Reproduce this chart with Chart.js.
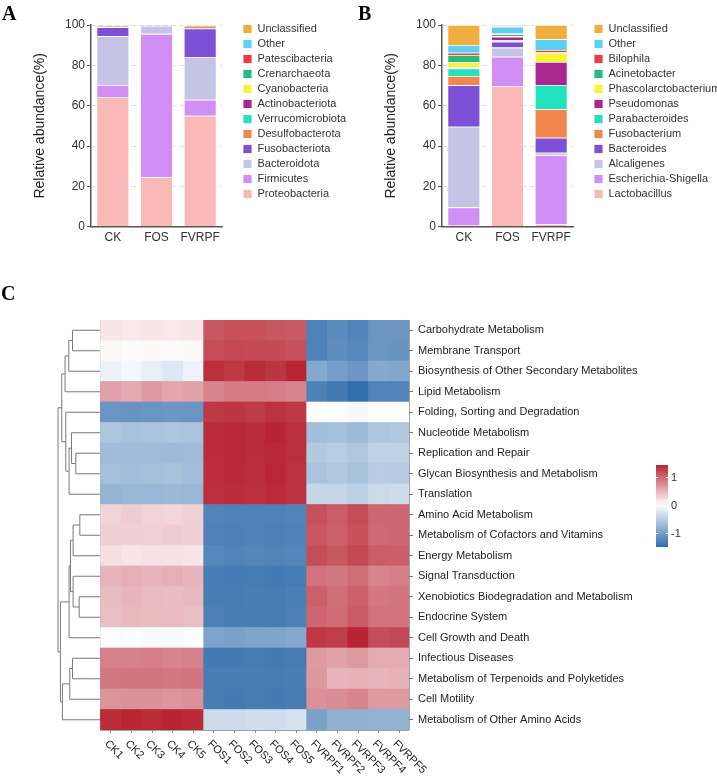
<!DOCTYPE html>
<html>
<head>
<meta charset="utf-8">
<script src="https://cdn.jsdelivr.net/npm/chart.js@4.4.0/dist/chart.umd.min.js"></script>
<style>
    body { margin: 0; background: #fff; }
    #page { position: relative; width: 717px; height: 777px; overflow: hidden; }
    .tag { position: absolute; font: bold 20px 'Liberation Serif', 'Times New Roman', serif; line-height: 20px; color: #000; }
    canvas { position: absolute; }
</style>
</head>
<body>
<div id="page">
    <canvas id="chartA" width="362" height="250" style="left:0;top:0"></canvas>
    <canvas id="chartB" width="400" height="250" style="left:351px;top:0"></canvas>
    <canvas id="chartC" width="717" height="527" style="left:0;top:250px"></canvas>
    <div class="tag" style="left:2px;top:3px">A</div>
    <div class="tag" style="left:358px;top:3px">B</div>
    <div class="tag" style="left:1px;top:283px">C</div>
</div>
<script>
const FONT = "'Liberation Sans', Arial, sans-serif";
Chart.defaults.font.family = FONT;

const groups = ['CK', 'FOS', 'FVRPF'];

// stack order is bottom -> top
const phylumNames = ['Proteobacteria', 'Firmicutes', 'Bacteroidota', 'Fusobacteriota', 'Desulfobacterota',
    'Verrucomicrobiota', 'Actinobacteriota', 'Cyanobacteria', 'Crenarchaeota', 'Patescibacteria', 'Other', 'Unclassified'];
const phylumCK    = [64.3, 6.0, 24.2, 4.4, 0.6, 0.1, 0.1, 0.0, 0.0, 0.1, 0.1, 0.1];
const phylumFOS   = [24.6, 71.0, 4.0, 0.3, 0.05, 0.02, 0.01, 0.0, 0.0, 0.0, 0.01, 0.01];
const phylumFVRPF = [55.0, 8.0, 21.1, 14.2, 1.3, 0.1, 0.1, 0.0, 0.0, 0.0, 0.1, 0.1];

const genusNames = ['Lactobacillus', 'Escherichia-Shigella', 'Alcaligenes', 'Bacteroides', 'Fusobacterium',
    'Parabacteroides', 'Pseudomonas', 'Phascolarctobacterium', 'Acinetobacter', 'Bilophila', 'Other', 'Unclassified'];
const genusCK    = [0.6, 9.0, 40.0, 20.5, 4.6, 3.8, 0.4, 2.6, 3.6, 1.2, 3.8, 9.9];
const genusFOS   = [69.8, 14.5, 4.5, 2.9, 0.3, 0.4, 1.8, 0.3, 1.0, 0.4, 3.3, 0.8];
const genusFVRPF = [1.2, 34.3, 1.2, 7.4, 14.1, 12.1, 11.4, 4.6, 0.2, 1.1, 5.4, 7.0];

const taxonColors = ['#F9B9B6', '#D18FF6', '#C5C4E6', '#7D50D7', '#F2874D', '#22E3BE',
    '#A8288F', '#F8F43A', '#27BD78', '#F03B40', '#5CD2F2', '#F0AE3F'];

// heatmap (row z-scores)
const samples = ['CK1', 'CK2', 'CK3', 'CK4', 'CK5', 'FOS1', 'FOS2', 'FOS3', 'FOS4', 'FOS5',
    'FVRPF1', 'FVRPF2', 'FVRPF3', 'FVRPF4', 'FVRPF5'];
const pathways = ['Carbohydrate Metabolism', 'Membrane Transport', 'Biosynthesis of Other Secondary Metabolites',
    'Lipid Metabolism', 'Folding, Sorting and Degradation', 'Nucleotide Metabolism', 'Replication and Repair',
    'Glycan Biosynthesis and Metabolism', 'Translation', 'Amino Acid Metabolism', 'Metabolism of Cofactors and Vitamins',
    'Energy Metabolism', 'Signal Transduction', 'Xenobiotics Biodegradation and Metabolism', 'Endocrine System',
    'Cell Growth and Death', 'Infectious Diseases', 'Metabolism of Terpenoids and Polyketides', 'Cell Motility',
    'Metabolism of Other Amino Acids'];
const zScores = [
    [0.16, 0.15, 0.16, 0.15, 0.16, 1.10, 1.14, 1.14, 1.10, 1.08, -1.30, -1.20, -1.28, -1.10, -1.10],
    [0.05, 0.03, 0.04, 0.03, 0.04, 1.16, 1.20, 1.18, 1.18, 1.13, -1.30, -1.18, -1.25, -1.10, -1.12],
    [-0.14, -0.08, -0.17, -0.24, -0.13, 1.36, 1.30, 1.38, 1.32, 1.42, -0.90, -1.02, -1.08, -0.90, -0.92],
    [0.62, 0.56, 0.66, 0.58, 0.60, 0.80, 0.86, 0.86, 0.84, 0.80, -1.32, -1.38, -1.51, -1.28, -1.28],
    [-1.10, -1.12, -1.10, -1.08, -1.10, 1.30, 1.32, 1.28, 1.34, 1.30, -0.02, -0.03, -0.07, -0.01, -0.01],
    [-0.60, -0.64, -0.62, -0.60, -0.62, 1.38, 1.41, 1.38, 1.43, 1.36, -0.68, -0.66, -0.72, -0.60, -0.58],
    [-0.70, -0.70, -0.70, -0.71, -0.70, 1.38, 1.41, 1.38, 1.40, 1.36, -0.56, -0.52, -0.58, -0.47, -0.47],
    [-0.66, -0.68, -0.66, -0.64, -0.68, 1.37, 1.40, 1.37, 1.41, 1.34, -0.62, -0.57, -0.64, -0.52, -0.53],
    [-0.78, -0.76, -0.76, -0.74, -0.76, 1.36, 1.38, 1.36, 1.39, 1.34, -0.43, -0.44, -0.49, -0.38, -0.36],
    [0.28, 0.33, 0.28, 0.26, 0.30, -1.28, -1.30, -1.30, -1.30, -1.28, 1.14, 1.06, 1.16, 1.00, 1.00],
    [0.31, 0.31, 0.30, 0.33, 0.31, -1.30, -1.32, -1.30, -1.32, -1.30, 1.10, 1.03, 1.13, 0.98, 1.00],
    [0.21, 0.17, 0.19, 0.19, 0.17, -1.25, -1.28, -1.26, -1.28, -1.26, 1.16, 1.10, 1.20, 1.06, 1.05],
    [0.48, 0.52, 0.48, 0.52, 0.48, -1.35, -1.37, -1.36, -1.38, -1.36, 0.92, 0.88, 0.95, 0.80, 0.84],
    [0.44, 0.48, 0.45, 0.43, 0.46, -1.34, -1.36, -1.35, -1.36, -1.33, 1.04, 0.95, 1.04, 0.88, 0.90],
    [0.42, 0.46, 0.44, 0.45, 0.42, -1.32, -1.35, -1.35, -1.36, -1.32, 1.00, 0.96, 1.07, 0.92, 0.92],
    [-0.03, -0.02, -0.05, -0.05, -0.02, -0.96, -0.98, -0.94, -0.94, -0.90, 1.30, 1.26, 1.43, 1.16, 1.20],
    [0.82, 0.82, 0.84, 0.80, 0.82, -1.38, -1.38, -1.36, -1.38, -1.36, 0.66, 0.60, 0.66, 0.54, 0.54],
    [0.88, 0.90, 0.90, 0.88, 0.90, -1.34, -1.35, -1.34, -1.36, -1.34, 0.68, 0.48, 0.50, 0.48, 0.50],
    [0.70, 0.72, 0.72, 0.69, 0.72, -1.34, -1.38, -1.36, -1.38, -1.36, 0.72, 0.75, 0.80, 0.66, 0.66],
    [1.38, 1.42, 1.38, 1.43, 1.40, -0.38, -0.38, -0.34, -0.35, -0.30, -0.98, -0.82, -0.82, -0.80, -0.80]
];
// row dendrogram: [height, left, right], leaves are row indexes
const rowTree = [1.0,
    [0.911,
        [0.832, [0.743, [0.655, 0, 1], 2], 3],
        [0.815, 4, [0.736, [0.679, 5, [0.576, 6, 7]], 8]]],
    [0.943,
        [0.736, [0.703, [0.64, [0.48, 9, 10], 11], [0.64, 12, [0.496, 13, 14]]], 15],
        [0.895, [0.72, [0.655, 16, 17], 18], 19]]];
const legendTicks = [1, 0, -1];

//--- stacked bar panels
function legendWidth(names) {
    const c = document.createElement('canvas').getContext('2d');
    c.font = '11px ' + FONT;
    const w = Math.max(...names.map(n => c.measureText(n).width));
    return 4 + 9 + 5.5 + w + 10;
}

function stackedChart(canvasName, names, values) {
    const canvas = document.getElementById(canvasName);
    // legend boxes start 243px from the canvas left edge
    const lw = legendWidth(names);
    const padRight = Math.max(0, canvas.width - 239 - lw);
    const datasets = names.map((name, k) => ({
        label: name,
        data: values.map(v => v[k]),
        backgroundColor: taxonColors[k],
        borderColor: '#ffffff',
        borderWidth: 0.8,
        barPercentage: 0.75,
        categoryPercentage: 1.0
    }));
    return new Chart(canvas, {
        type: 'bar',
        data: { labels: groups, datasets: datasets },
        options: {
            responsive: false,
            animation: false,
            layout: { padding: { left: 0, right: padRight, top: 19.5, bottom: 0 } },
            plugins: {
                title: { display: true, text: '', fullSize: false, font: { size: 1, lineHeight: 1 }, padding: { top: 4.5, bottom: 0 } },
                legend: {
                    position: 'right', align: 'start', reverse: true, maxWidth: lw + 2,
                    labels: { boxWidth: 9, boxHeight: 9, padding: 4, color: '#333', font: { size: 11 } }
                },
                tooltip: { enabled: false }
            },
            scales: {
                x: {
                    stacked: true,
                    grid: { display: false, drawTicks: false },
                    border: { color: '#555', width: 1.5 },
                    ticks: { color: '#333', font: { size: 12 }, padding: 4, autoSkip: false, maxRotation: 0 },
                    afterFit: s => { s.height = 23.3; }
                },
                y: {
                    stacked: true, min: 0, max: 100,
                    ticks: { stepSize: 20, color: '#333', font: { size: 12 }, padding: 2 },
                    grid: { color: '#dcdcdc', tickColor: '#555', tickLength: 4, tickBorderDash: [] },
                    border: { color: '#555', width: 1.5, dash: [4, 4] },
                    title: { display: true, text: 'Relative abundance(%)', color: '#222', font: { size: 14 }, padding: { top: 31.6, bottom: 0 } },
                    afterFit: s => { s.width = 91; }
                },
                gap: {
                    type: 'linear', position: 'right',
                    grid: { display: false, drawTicks: false },
                    ticks: { display: false },
                    border: { display: false },
                    afterFit: s => { s.width = 17; }
                }
            }
        }
    });
}

stackedChart('chartA', phylumNames, [phylumCK, phylumFOS, phylumFVRPF]);
stackedChart('chartB', genusNames, [genusCK, genusFOS, genusFVRPF]);

//--- heatmap
const zAll = zScores.flat();
const zMax = Math.max(...zAll);
const zMin = Math.min(...zAll);
const lowColor = [50, 110, 172];
const highColor = [184, 36, 51];

function zColor(v) {
    const t = v >= 0 ? v / zMax : v / zMin;
    const end = v >= 0 ? highColor : lowColor;
    const c = end.map(e => Math.round(255 + (e - 255) * t));
    return 'rgb(' + c.join(',') + ')';
}

const heatDecor = {
    id: 'heatDecor',
    afterDraw(chart) {
        const ctx = chart.ctx;
        const area = chart.chartArea;
        const xs = chart.scales.x;
        const ys = chart.scales.y;

        // sample labels
        ctx.save();
        ctx.strokeStyle = '#888';
        ctx.lineWidth = 1;
        ctx.fillStyle = '#222';
        ctx.font = '11px ' + FONT;
        samples.forEach((s, i) => {
            const cx = xs.getPixelForValue(i + 0.5);
            ctx.beginPath();
            ctx.moveTo(Math.round(cx) + 0.5, area.bottom);
            ctx.lineTo(Math.round(cx) + 0.5, area.bottom + 3);
            ctx.stroke();
            ctx.save();
            ctx.translate(cx - 4, area.bottom + 12);
            ctx.rotate(Math.PI / 4);
            ctx.textAlign = 'left';
            ctx.textBaseline = 'middle';
            ctx.fillText(s, 0, 0);
            ctx.restore();
        });
        ctx.restore();

        // dendrogram
        const hx = h => area.left - h * 42;
        ctx.save();
        ctx.strokeStyle = '#7a7a7a';
        ctx.lineWidth = 1;
        function walk(node) {
            if (typeof node === 'number') {
                return { y: ys.getPixelForValue(node), h: 0 };
            }
            const a = walk(node[1]);
            const b = walk(node[2]);
            const x = hx(node[0]);
            ctx.beginPath();
            ctx.moveTo(hx(a.h), a.y);
            ctx.lineTo(x, a.y);
            ctx.lineTo(x, b.y);
            ctx.lineTo(hx(b.h), b.y);
            ctx.stroke();
            return { y: (a.y + b.y) / 2, h: node[0] };
        }
        walk(rowTree);
        ctx.restore();

        // colour key
        const bx = area.right + 247, bw = 12;
        const top = area.top + 145, bottom = area.top + 227;
        const vy = v => top + (zMax - v) / (zMax - zMin) * (bottom - top);
        const grad = ctx.createLinearGradient(0, top, 0, bottom);
        for (let i = 0; i <= 20; i++) {
            const v = zMax - (zMax - zMin) * i / 20;
            grad.addColorStop(i / 20, zColor(v));
        }
        ctx.save();
        ctx.fillStyle = grad;
        ctx.fillRect(bx, top, bw, bottom - top);
        ctx.strokeStyle = '#fff';
        ctx.fillStyle = '#333';
        ctx.font = '11px ' + FONT;
        ctx.textAlign = 'left';
        ctx.textBaseline = 'middle';
        legendTicks.forEach(t => {
            const y = Math.round(vy(t)) + 0.5;
            ctx.beginPath();
            ctx.moveTo(bx, y); ctx.lineTo(bx + 2, y);
            ctx.moveTo(bx + bw - 2, y); ctx.lineTo(bx + bw, y);
            ctx.stroke();
            ctx.fillText(String(t), bx + bw + 3, y);
        });
        ctx.restore();
    }
};

new Chart(document.getElementById('chartC'), {
    type: 'bar',
    data: {
        labels: pathways,
        datasets: samples.map((s, j) => ({
            label: s,
            data: pathways.map(() => 1),
            backgroundColor: zScores.map(row => zColor(row[j])),
            borderWidth: 0,
            barPercentage: 1,
            categoryPercentage: 1
        }))
    },
    options: {
        indexAxis: 'y',
        responsive: false,
        animation: false,
        layout: { padding: { left: 100, right: 68, top: 70, bottom: 47 } },
        plugins: { legend: { display: false }, tooltip: { enabled: false } },
        scales: {
            x: {
                type: 'linear', stacked: true, min: 0, max: samples.length, z: 1,
                ticks: { display: false, stepSize: 1 },
                grid: { color: '#a3a3a3', drawTicks: false },
                border: { display: false },
                afterFit: s => { s.height = 0; }
            },
            y: {
                type: 'category', stacked: true, position: 'right', offset: true,
                grid: { drawOnChartArea: false, offset: false, tickLength: 4, color: '#777' },
                ticks: { color: '#222', font: { size: 11 }, padding: 5 },
                border: { display: false },
                afterFit: s => { s.width = 240; }
            },
            rowLines: {
                type: 'category', position: 'left', offset: true, z: 1,
                grid: { offset: true, color: '#a3a3a3', drawTicks: false },
                ticks: { display: false },
                border: { display: false },
                afterFit: s => { s.width = 0; }
            }
        }
    },
    plugins: [heatDecor]
});
</script>
</body>
</html>
